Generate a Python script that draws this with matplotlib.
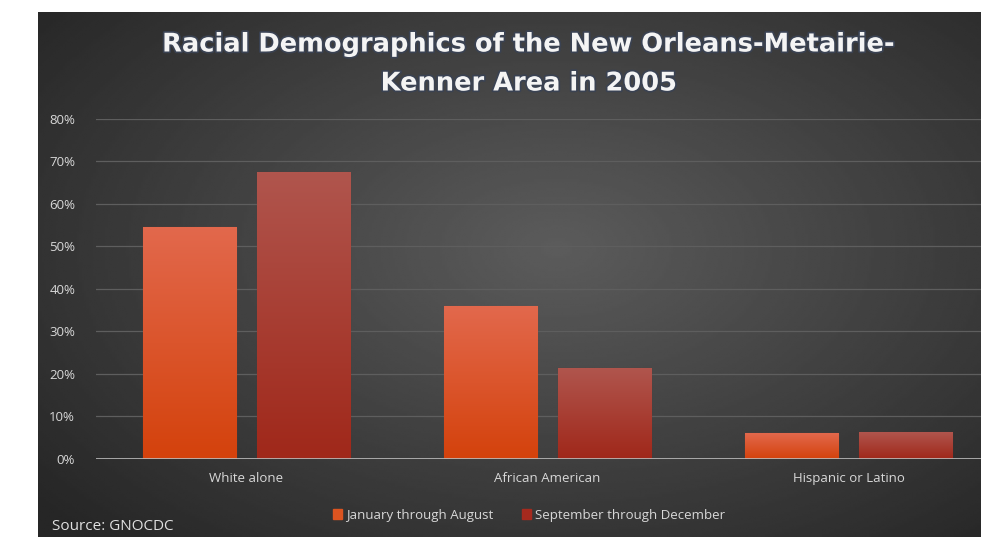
import matplotlib.pyplot as plt
import matplotlib.patheffects as pe
from matplotlib.patches import Patch
import numpy as np

categories = ['White alone', 'African American', 'Hispanic or Latino']
jan_aug = [54.5, 36.0, 6.0]
sep_dec = [67.5, 21.3, 6.2]
yticks = [0, 10, 20, 30, 40, 50, 60, 70, 80]
series_names = ['January through August', 'September through December']

W, H = 981, 537
fig = plt.figure(figsize=(W / 100, H / 100), dpi=100)
fig.patch.set_facecolor('white')

# dark panel with a soft radial glow
bg = fig.add_axes([38 / W, 0, 1 - 38 / W, (H - 12) / H])
bg.set_axis_off()
gx, gy = np.meshgrid(np.linspace(0, 1, 400), np.linspace(0, 1, 240))
r = np.sqrt(((gx - 0.55) / 0.75) ** 2 + ((gy - 0.45) / 0.8) ** 2)
shade = np.clip(0.36 - 0.22 * r, 0.15, 0.36)
bg.imshow(shade, cmap='gray', vmin=0, vmax=1, aspect='auto',
          extent=[0, 1, 0, 1], interpolation='bilinear')
bg.set_xlim(0, 1)
bg.set_ylim(0, 1)

ax = fig.add_axes([96 / W, (H - 458.7) / H, 1 - 96 / W, (458.7 - 119) / H])
ax.set_facecolor('none')
for s in ax.spines.values():
    s.set_visible(False)
ax.set_yticks(yticks)
ax.set_yticklabels([f'{t}%' for t in yticks], fontsize=9.5, color='#d8d8d8',
                   family='Open Sans')
ax.tick_params(axis='y', length=0, pad=15)
ax.set_xticks([])
for t in yticks[1:]:
    ax.axhline(t, color='#5e5e5e', lw=0.9, zorder=1)
ax.axhline(0, color='#bdbdbd', lw=1.2, zorder=3)

bw = 0.31
off = 0.19
x = np.arange(len(categories))


def gradient_bars(xs, vals, top_col, bot_col, edge):
    bars = ax.bar(xs, vals, bw, color='none', edgecolor=edge, lw=0.8, zorder=2)
    c0 = np.array(plt.matplotlib.colors.to_rgb(bot_col))
    c1 = np.array(plt.matplotlib.colors.to_rgb(top_col))
    for b in bars:
        h = b.get_height()
        t = np.linspace(0, 1, 64)[:, None, None]
        img = c0 + (c1 - c0) * t
        im = ax.imshow(img, origin='lower', aspect='auto', zorder=2,
                       extent=[b.get_x(), b.get_x() + bw, 0, h],
                       interpolation='bilinear')
        im.set_clip_path(b)
    return bars


gradient_bars(x - off, jan_aug, '#e2684c', '#d4420c', '#b84a30')
gradient_bars(x + off, sep_dec, '#b0554d', '#a0281a', '#7a2a22')
ax.set_xlim(-0.5, -0.5 + 885 / 301)
ax.set_ylim(0, 80)

for i, c in enumerate(categories):
    ax.text(i, -4.7, c, ha='center', va='center', fontsize=9.5,
            color='#d8d8d8', family='Open Sans')

title = 'Racial Demographics of the New Orleans-Metairie-\nKenner Area in 2005'
fig.text(529 / W, 1 - 64 / H, title, ha='center', va='center', fontsize=18.5,
         fontweight='bold', color='#f4f4f4', family='DejaVu Sans',
         linespacing=1.65,
         path_effects=[pe.withStroke(linewidth=2.5, foreground='#3a4252')])

handles = [Patch(color='#dc5420'), Patch(color='#a62a1e')]
fig.legend(handles, series_names, loc='center', bbox_to_anchor=(529 / W, 1 - 515 / H),
           ncol=2, frameon=False, labelcolor='#d8d8d8',
           handlelength=0.7, handleheight=0.7, handletextpad=0.3,
           columnspacing=2.2, prop={'family': 'Open Sans', 'size': 9.5})

fig.text(52 / W, 1 - 527 / H, 'Source: GNOCDC', ha='left', va='center',
         fontsize=11, color='#e0e0e0', family='Open Sans')

fig.savefig('out.png', dpi=100)
